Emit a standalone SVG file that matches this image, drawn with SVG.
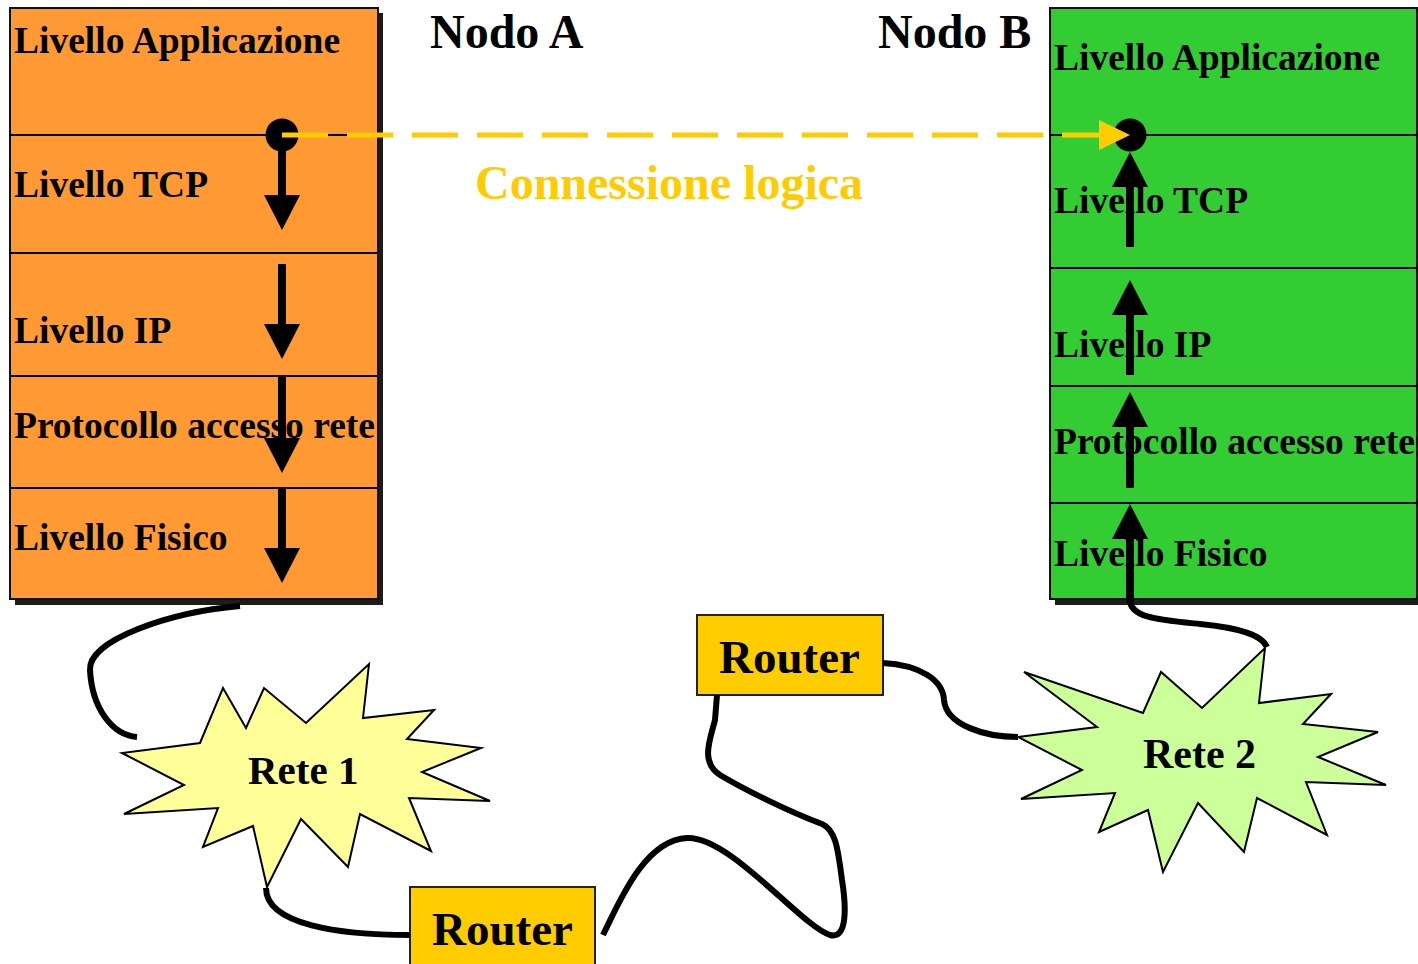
<svg xmlns="http://www.w3.org/2000/svg" width="1418" height="964" viewBox="0 0 1418 964">
  <style>
    .lbl { font-family: "Liberation Serif", "Times New Roman", serif; font-weight: bold; fill: #000; }
    .layer { font-size: 37.5px; }
    .title { font-size: 48px; }
    .shadow { fill: #1c1c1c; }
    .div { stroke: #000; stroke-width: 2; }
    .frame { stroke: #111; stroke-width: 2; }
    .router { fill: #FFCC00; stroke: #222; stroke-width: 2; }
    .star { stroke: #000; stroke-width: 2; stroke-linejoin: miter; }
    .shaft { stroke: #000; stroke-width: 8; fill: none; }
    .cable { stroke: #000; stroke-width: 6; fill: none; stroke-linecap: butt; }
  </style>
  <defs>
    <marker id="ah" markerUnits="userSpaceOnUse" markerWidth="36" markerHeight="36" refX="0" refY="18" orient="auto">
      <path d="M0,0 L35,18 L0,36 z" fill="#000"/>
    </marker>
    <marker id="ahY" markerUnits="userSpaceOnUse" markerWidth="32" markerHeight="30" refX="0" refY="15" orient="auto">
      <path d="M0,0 L31,15 L0,30 z" fill="#FFCC00"/>
    </marker>
  </defs>

  <rect width="1418" height="964" fill="#fff"/>

  <!-- Node A protocol stack -->
  <g id="stack-a">
    <rect class="shadow" x="15" y="13" width="368" height="592"/>
    <rect class="frame" x="10" y="8" width="368" height="591" fill="#FF9933"/>
    <line class="div" x1="10" y1="135" x2="378" y2="135"/>
    <line class="div" x1="10" y1="253" x2="378" y2="253"/>
    <line class="div" x1="10" y1="376" x2="378" y2="376"/>
    <line class="div" x1="10" y1="488" x2="378" y2="488"/>
    <text class="lbl layer" x="14" y="53">Livello Applicazione</text>
    <text class="lbl layer" x="14" y="197">Livello TCP</text>
    <text class="lbl layer" x="14" y="343">Livello IP</text>
    <text class="lbl layer" x="14" y="438">Protocollo accesso rete</text>
    <text class="lbl layer" x="14" y="550">Livello Fisico</text>
  </g>

  <!-- Node B protocol stack -->
  <g id="stack-b">
    <rect class="shadow" x="1055" y="13" width="363" height="592"/>
    <rect class="frame" x="1050" y="8" width="367" height="591" fill="#33CC33"/>
    <line class="div" x1="1050" y1="135" x2="1418" y2="135"/>
    <line class="div" x1="1050" y1="268" x2="1418" y2="268"/>
    <line class="div" x1="1050" y1="386" x2="1418" y2="386"/>
    <line class="div" x1="1050" y1="503" x2="1418" y2="503"/>
    <text class="lbl layer" x="1054" y="70">Livello Applicazione</text>
    <text class="lbl layer" x="1054" y="213">Livello TCP</text>
    <text class="lbl layer" x="1054" y="357">Livello IP</text>
    <text class="lbl layer" x="1054" y="454">Protocollo accesso rete</text>
    <text class="lbl layer" x="1054" y="566">Livello Fisico</text>
  </g>

  <g id="title-a">
    <text class="lbl title" x="430" y="48">Nodo A</text>
  </g>
  <g id="title-b">
    <text class="lbl title" x="878" y="48">Nodo B</text>
  </g>

  <!-- Networks -->
  <g id="rete-1">
    <polygon class="star" fill="#FFFF99" points="223,688 246,728 264,688 306,723 369,664 363,718 434,710 407,739 481,748 422,772 490,801 409,798 431,851 360,814 348,867 301,819 267,887 253,826 203,847 218,808 124,814 184,785 122,753 200,743"/>
    <text class="lbl" font-size="41" x="248" y="784">Rete 1</text>
  </g>
  <g id="rete-2">
    <polygon class="star" fill="#CCFF99" points="1024,672 1143,713 1161,672 1202,708 1265,648 1259,703 1331,694 1303,724 1378,732 1318,757 1386,785 1306,782 1327,835 1257,798 1244,852 1198,803 1163,872 1148,810 1099,832 1115,793 1021,799 1082,770 1018,737 1097,727"/>
    <text class="lbl" font-size="42" x="1143" y="768">Rete 2</text>
  </g>

  <!-- Routers -->
  <g id="router-1">
    <rect class="router" x="410" y="887" width="185" height="82"/>
    <text class="lbl" font-size="47" x="432" y="945">Router</text>
  </g>
  <g id="router-2">
    <rect class="router" x="697" y="615" width="186" height="80"/>
    <text class="lbl" font-size="47" x="719" y="673">Router</text>
  </g>

  <!-- Connectors -->
  <g id="connectors">
    <!-- physical cables -->
    <path class="cable" d="M240,606 C170,612 88,640 90,670 C92,708 112,735 137,737"/>
    <path class="cable" d="M266,888 C266,925 340,935 410,935"/>
    <path class="cable" d="M603,935 C620,900 645,840 687,838 C730,836 800,925 830,935 C848,940 846,905 842,880 C838,850 836,830 822,824 C790,812 745,790 720,775 C700,762 710,740 715,720 L717,695"/>
    <path class="cable" d="M883,663 C920,665 943,680 944,700 C946,725 985,737 1018,737"/>
    <path class="cable" d="M1130,598 C1128,618 1160,620 1200,624 C1240,628 1262,635 1267,647"/>

    <!-- end points of the logical connection -->
    <circle cx="282" cy="135" r="16.5" fill="#000"/>
    <circle cx="1130" cy="135" r="16.5" fill="#000"/>

    <!-- descent through node A -->
    <line class="shaft" x1="282" y1="135" x2="282" y2="195" marker-end="url(#ah)"/>
    <line class="shaft" x1="282" y1="264" x2="282" y2="324" marker-end="url(#ah)"/>
    <line class="shaft" x1="282" y1="376" x2="282" y2="438" marker-end="url(#ah)"/>
    <line class="shaft" x1="282" y1="488" x2="282" y2="548" marker-end="url(#ah)"/>

    <!-- ascent through node B -->
    <line class="shaft" x1="1130" y1="247" x2="1130" y2="187" marker-end="url(#ah)"/>
    <line class="shaft" x1="1130" y1="375" x2="1130" y2="315" marker-end="url(#ah)"/>
    <line class="shaft" x1="1130" y1="488" x2="1130" y2="427" marker-end="url(#ah)"/>
    <line class="shaft" x1="1130" y1="602" x2="1130" y2="539" marker-end="url(#ah)"/>

    <!-- logical connection -->
    <line x1="282" y1="135" x2="1099" y2="135" stroke="#FFCC00" stroke-width="5" stroke-dasharray="46 19" marker-end="url(#ahY)"/>
    <text class="lbl" font-size="48" style="fill:#FFCC00" x="475" y="199">Connessione logica</text>
  </g>
</svg>
